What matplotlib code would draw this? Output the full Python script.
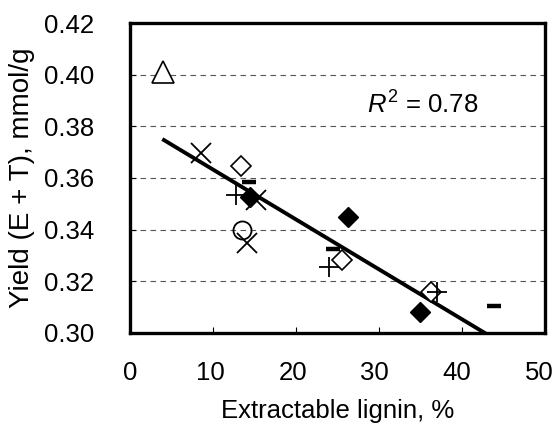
"""Yield (E + T) vs extractable lignin scatter with linear trend line."""
import matplotlib
matplotlib.use("Agg")
import matplotlib.pyplot as plt
from matplotlib.ticker import FixedLocator, MultipleLocator

plt.rcParams["font.family"] = ["Liberation Sans", "DejaVu Sans"]
plt.rcParams["mathtext.fontset"] = "custom"
plt.rcParams["mathtext.rm"] = "Liberation Sans"
plt.rcParams["mathtext.it"] = "Liberation Sans:italic"

# points grouped by marker type (x = extractable lignin %, y = yield mmol/g)
tri_x = [4.0]
tri_y = [0.401]
cross_x = [8.6, 15.2, 14.1]
cross_y = [0.3696, 0.3515, 0.3347]
open_dia_x = [13.4, 25.5, 36.3]
open_dia_y = [0.3648, 0.3283, 0.3160]
fill_dia_x = [14.5, 26.3, 34.9]
fill_dia_y = [0.3528, 0.3450, 0.3082]
plus_x = [12.8, 24.0, 37.0]
plus_y = [0.3534, 0.3257, 0.3160]
circle_x = [13.5]
circle_y = [0.3399]
dash_x = [14.3, 24.5, 43.8]
dash_y = [0.3583, 0.3324, 0.3105]

# trend line
fit_slope = -0.001932
fit_intercept = 0.3826
fit_x = [3.9, 44.0]
r2_text = "$\\mathit{R}^2$ = 0.78"

x_tick_labels = ["0", "10", "20", "30", "40", "50"]

fig = plt.figure(figsize=(5.53, 4.30), dpi=100)
ax = fig.add_axes([0.235, 0.2256, 0.7505, 0.7209])

fit_y = [fit_slope * x + fit_intercept for x in fit_x]
ax.plot(fit_x, fit_y, color="black", lw=2.8, solid_capstyle="butt", zorder=2)

mk = dict(color="black", linestyle="none", zorder=3)
ax.plot(tri_x, tri_y, marker="^", ms=16, mfc="white", mew=1.2, **mk)
ax.plot(cross_x, cross_y, marker="x", ms=14, mew=1.3, **mk)
ax.plot(open_dia_x, open_dia_y, marker="D", ms=10, mfc="white", mew=1.2, **mk)
ax.plot(fill_dia_x, fill_dia_y, marker="D", ms=10.5, mew=1.0, **mk)
ax.plot(plus_x, plus_y, marker="+", ms=15, mew=1.3, **mk)
ax.plot(circle_x, circle_y, marker="o", ms=13, mfc="none", mew=1.3, **mk)
ax.plot(dash_x, dash_y, marker="_", ms=9.5, mew=3.2, **mk)

ax.set_xlim(0, 50)
ax.set_ylim(0.30, 0.42)
# labels sit slightly left of the tick marks in the original
ax.xaxis.set_major_locator(FixedLocator([0, 9.7, 19.6, 29.5, 39.4, 49.3]))
ax.set_xticklabels(x_tick_labels)
ax.xaxis.set_minor_locator(MultipleLocator(10))
ax.yaxis.set_major_locator(MultipleLocator(0.02))
ax.yaxis.set_major_formatter(plt.FuncFormatter(lambda v, p: f"{v:.2f}"))

for v in [0.32, 0.34, 0.36, 0.38, 0.40]:
    ax.axhline(v, color="#555555", lw=0.8, ls=(0, (5, 4)), zorder=1)

ax.tick_params(axis="y", direction="in", length=4, width=0.8,
               labelsize=18.5, pad=26, right=False)
ax.tick_params(axis="x", which="major", length=0, labelsize=18.5, pad=20)
ax.tick_params(axis="x", which="minor", direction="in", length=4, width=0.8,
               top=False)
for s in ax.spines.values():
    s.set_linewidth(2.4)

ax.set_xlabel("Extractable lignin, %", fontsize=18.5, labelpad=10)
ax.set_ylabel("Yield (E + T), mmol/g", fontsize=20, labelpad=6)

ax.text(28.5, 0.385, r2_text, fontsize=18.5, va="baseline", ha="left")

fig.savefig("out.png", dpi=100)
